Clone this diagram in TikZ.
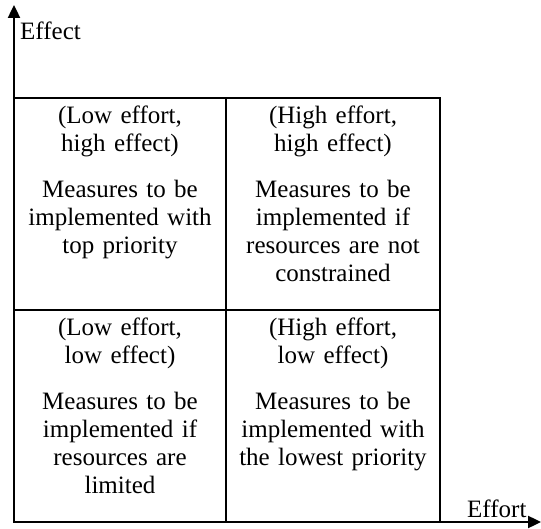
\documentclass[tikz,border=0pt]{standalone}
\usepackage{fontspec}
\setmainfont{Liberation Serif}
\usetikzlibrary{arrows.meta}

\begin{document}
\begin{tikzpicture}[x=1pt,y=-1pt,
  axis/.style={line width=2.4pt,-{Triangle[length=13pt,width=12pt]}},
  gridline/.style={line width=2.4pt},
  celltext/.style={text width=208pt, align=center, inner sep=0pt, anchor=base,
    font=\fontsize{25}{28}\selectfont},
  axislabel/.style={inner sep=0pt, anchor=base west, font=\fontsize{25}{28}\selectfont}]
\useasboundingbox (0,0) rectangle (541,529);

% corner points of the 2x2 matrix
\coordinate (O)  at (14,522);
\coordinate (tl) at (14,98);
\coordinate (br) at (440,522);
\coordinate (ytip) at (14,5);
\coordinate (xtip) at (541,522);

% matrix frame and dividers
\draw[gridline] (tl) rectangle (br);
\coordinate (mt) at (226,98);
\coordinate (mb) at (226,522);
\coordinate (ml) at (14,310);
\coordinate (mr) at (440,310);
\draw[gridline] (mt) -- (mb);
\draw[gridline] (ml) -- (mr);

% axes
\draw[axis] (O) -- (ytip);
\draw[axis] (O) -- (xtip);
\node[axislabel] (effect) at (20,40) {Effect};
\node[axislabel] (effort) at (467,517) {Effort};

% quadrant texts
\node[celltext] (q1) at (120,124) {(Low effort,\\ high effect)\\[18pt] Measures to be\\ implemented with\\ top priority};
\node[celltext] (q2) at (333,124) {(High effort,\\ high effect)\\[18pt] Measures to be\\ implemented if\\ resources are not\\ constrained};
\node[celltext] (q3) at (120,336) {(Low effort,\\ low effect)\\[18pt] Measures to be\\ implemented if\\ resources are\\ limited};
\node[celltext] (q4) at (333,336) {(High effort,\\ low effect)\\[18pt] Measures to be\\ implemented with\\ the lowest priority};
\end{tikzpicture}
\end{document}
